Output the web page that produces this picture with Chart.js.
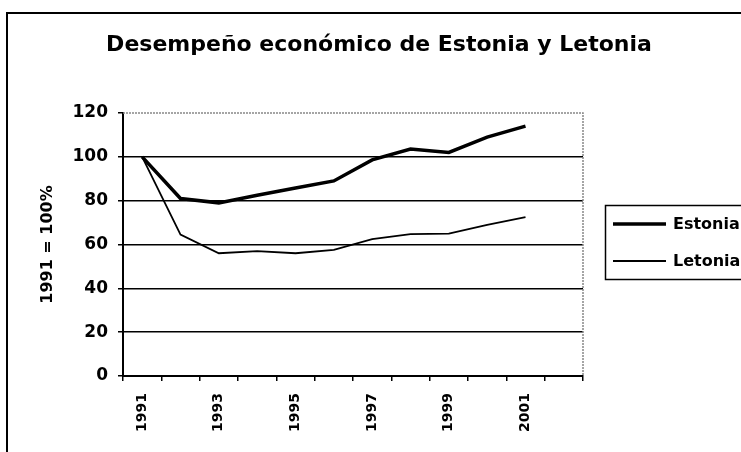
<!DOCTYPE html>
<html>
<head>
<meta charset="utf-8">
<script src="https://cdn.jsdelivr.net/npm/chart.js@4"></script>
<style>
  html, body { margin: 0; padding: 0; background: #fff; }
  #wrap { width: 741px; height: 452px; }
</style>
</head>
<body>
<div id="wrap"><canvas id="grafica" width="741" height="452"></canvas></div>
<script>
// Datos
const anios = ['1991','1992','1993','1994','1995','1996','1997','1998','1999','2000','2001','2002'];
const estonia = [100, 81, 79, 82.5, 85.8, 89, 98.6, 103.6, 102, 109, 114, null];
const letonia = [100, 64.5, 56, 57, 56, 57.5, 62.5, 64.7, 65, 69, 72.5, null];
const ticksY = [0, 20, 40, 60, 80, 100, 120];

const FUENTE = '"DejaVu Sans", sans-serif';

// Fondo, marco exterior, borde punteado del área y leyenda
const marco = {
    id: 'marco',
    beforeDraw(chart) {
        const ctx = chart.ctx;
        ctx.save();
        ctx.fillStyle = '#fff';
        ctx.fillRect(0, 0, chart.width, chart.height);
        ctx.restore();
    },
    afterDraw(chart) {
        const ctx = chart.ctx;
        const a = chart.chartArea;
        ctx.save();
        // borde punteado gris (arriba y derecha)
        ctx.strokeStyle = '#888';
        ctx.lineWidth = 1.5;
        ctx.setLineDash([2, 1]);
        ctx.beginPath();
        ctx.moveTo(a.left, a.top);
        ctx.lineTo(a.right, a.top);
        ctx.lineTo(a.right, a.bottom);
        ctx.stroke();
        ctx.setLineDash([]);
        // marco exterior
        ctx.strokeStyle = '#000';
        ctx.lineWidth = 2;
        ctx.strokeRect(7, 13, 760, 460);
        // leyenda
        ctx.lineWidth = 1.5;
        ctx.strokeRect(605.5, 205.5, 150, 74);
        const filas = [224, 261];
        ctx.font = 'bold 16px ' + FUENTE;
        ctx.textBaseline = 'middle';
        ctx.fillStyle = '#000';
        chart.data.datasets.forEach((ds, i) => {
            ctx.lineWidth = ds.borderWidth;
            ctx.beginPath();
            ctx.moveTo(613, filas[i]);
            ctx.lineTo(666, filas[i]);
            ctx.stroke();
            ctx.fillText(ds.label, 673, filas[i] + 1);
        });
        ctx.restore();
    }
};

new Chart(document.getElementById('grafica'), {
    type: 'line',
    data: {
        labels: anios,
        datasets: [
            { label: 'Estonia', data: estonia, borderColor: '#000', borderWidth: 3.5, pointRadius: 0, tension: 0 },
            { label: 'Letonia', data: letonia, borderColor: '#000', borderWidth: 1.8, pointRadius: 0, tension: 0 }
        ]
    },
    options: {
        responsive: false,
        animation: false,
        layout: { padding: { top: 0, left: 17, right: 0, bottom: 0 } },
        plugins: {
            legend: { display: false },
            tooltip: { enabled: false },
            title: {
                display: true,
                text: 'Desempeño económico de Estonia y Letonia',
                color: '#000',
                font: { family: FUENTE, size: 22, weight: 'bold' },
                padding: { top: 32, bottom: 54.6 }
            }
        },
        scales: {
            x: {
                type: 'category',
                offset: true,
                afterFit(s) { s.height = 76; },
                grid: { display: true, drawOnChartArea: false, drawTicks: true, tickLength: 5, color: '#000', lineWidth: 1.5, offset: true },
                border: { display: true, color: '#000', width: 2 },
                ticks: {
                    autoSkip: false,
                    minRotation: 90,
                    maxRotation: 90,
                    padding: 12,
                    color: '#000',
                    font: { family: FUENTE, size: 14, weight: 'bold' },
                    callback(v, i) { return i % 2 === 0 ? anios[i] : ''; }
                }
            },
            y: {
                min: 0,
                max: 120,
                afterFit(s) { s.width = 106; },
                afterBuildTicks(s) { s.ticks = ticksY.map(v => ({ value: v })); },
                grid: {
                    color: c => c.tick && c.tick.value === 120 ? 'rgba(0,0,0,0)' : '#000',
                    tickColor: '#000',
                    lineWidth: 1.5,
                    tickLength: 5
                },
                border: { display: true, color: '#000', width: 2 },
                ticks: {
                    padding: 10,
                    color: '#000',
                    font: { family: FUENTE, size: 17, weight: 'bold' }
                },
                title: {
                    display: true,
                    text: '1991 = 100%',
                    color: '#000',
                    font: { family: FUENTE, size: 16, weight: 'bold' },
                    padding: { top: 21, bottom: 0 }
                }
            },
            // eje vacío a la derecha: reserva el hueco de la leyenda
            yLeyenda: {
                position: 'right',
                display: true,
                afterFit(s) { s.width = 158; },
                grid: { display: false },
                border: { display: false },
                ticks: { display: false }
            }
        }
    },
    plugins: [marco]
});
</script>
</body>
</html>
